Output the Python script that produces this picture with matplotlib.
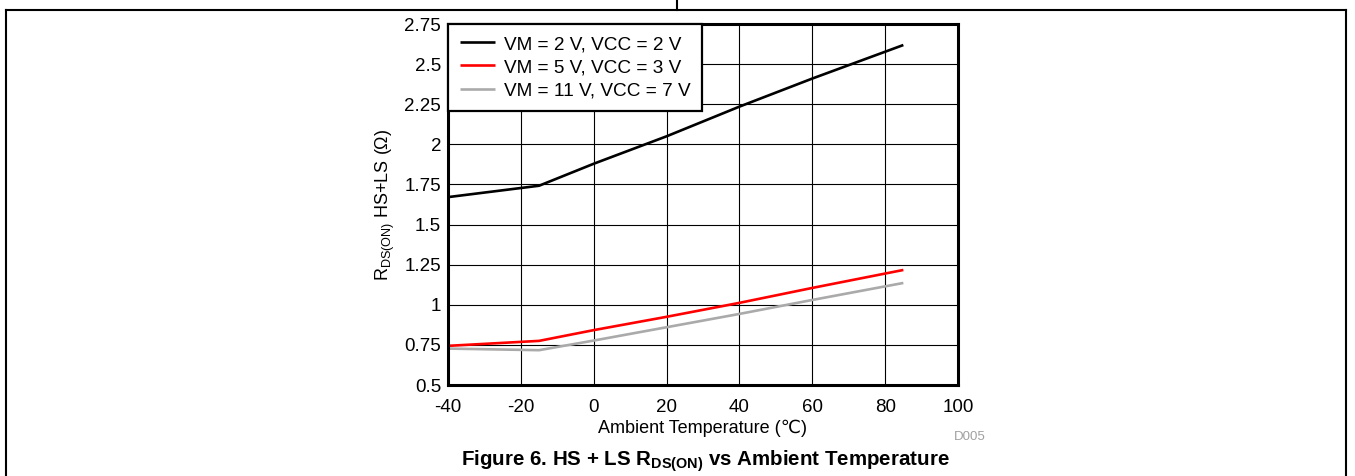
import matplotlib
matplotlib.use('Agg')
import matplotlib.pyplot as plt
from matplotlib.lines import Line2D
from matplotlib.ticker import FuncFormatter, MultipleLocator

plt.rcParams['font.family'] = ['Liberation Sans', 'DejaVu Sans']
plt.rcParams['axes.unicode_minus'] = False

# temperature points (deg C)
temps = [-40, -15, 0, 20, 40, 60, 85]

# RDS(ON) HS+LS (ohm) per supply setting
r_vm2 = [1.671, 1.742, 1.879, 2.05, 2.235, 2.41, 2.619]
r_vm5 = [0.744, 0.775, 0.842, 0.925, 1.012, 1.105, 1.217]
r_vm11 = [0.727, 0.717, 0.777, 0.86, 0.943, 1.03, 1.136]

labels = ['VM = 2 V, VCC = 2 V', 'VM = 5 V, VCC = 3 V', 'VM = 11 V, VCC = 7 V']
colors = ['#000000', '#ff0000', '#aaaaaa']

W, H = 1355, 476
fig = plt.figure(figsize=(W / 100, H / 100), dpi=100)
ax = fig.add_axes([448 / W, 1 - 385 / H, 510 / W, 361 / H])

for ys, lab, c in zip([r_vm2, r_vm5, r_vm11], labels, colors):
    ax.plot(temps, ys, color=c, lw=1.9, label=lab, solid_capstyle='butt')

ax.set_xlim(-40, 100)
ax.set_ylim(0.5, 2.75)
ax.xaxis.set_major_locator(MultipleLocator(20))
ax.yaxis.set_major_locator(MultipleLocator(0.25))
ax.yaxis.set_major_formatter(FuncFormatter(lambda v, p: '%g' % v))
ax.grid(True, color='black', lw=0.8)
ax.set_axisbelow(True)
ax.tick_params(length=0, labelsize=13.5)
ax.tick_params(axis='x', pad=10)
ax.tick_params(axis='y', pad=5)
for s in ax.spines.values():
    s.set_linewidth(2.2)

ax.set_xlabel('Ambient Temperature (\u2103)', fontsize=13, labelpad=3)
ax.set_ylabel('R$\\mathregular{_{DS(ON)}}$ HS+LS (\u03a9)', fontsize=13, labelpad=5)

leg = ax.legend(loc='upper left', borderaxespad=0, fancybox=False, fontsize=13.7,
                handlelength=1.85, handletextpad=0.45, labelspacing=0.3,
                borderpad=0.62, framealpha=1)
leg.get_frame().set_edgecolor('black')
leg.get_frame().set_linewidth(1.6)

fig.text(970 / W, 1 - 437 / H, 'D005', color='#a0a0a0', fontsize=9.5, ha='center', va='center')
fig.text(705 / W, 1 - 461 / H, 'Figure 6. HS + LS R$\\mathregular{_{DS(ON)}}$ vs Ambient Temperature',
         fontsize=14.8, fontweight='bold', ha='center', va='center')

# page table borders
fig.add_artist(Line2D([6 / W, 1346 / W], [1 - 10 / H, 1 - 10 / H], color='black', lw=1.5))
fig.add_artist(Line2D([6 / W, 6 / W], [0, 1 - 10 / H], color='black', lw=1.5))
fig.add_artist(Line2D([1346 / W, 1346 / W], [0, 1 - 10 / H], color='black', lw=1.5))
fig.add_artist(Line2D([677 / W, 677 / W], [1 - 10 / H, 1], color='black', lw=1.5))

fig.savefig('out.png', dpi=100)
